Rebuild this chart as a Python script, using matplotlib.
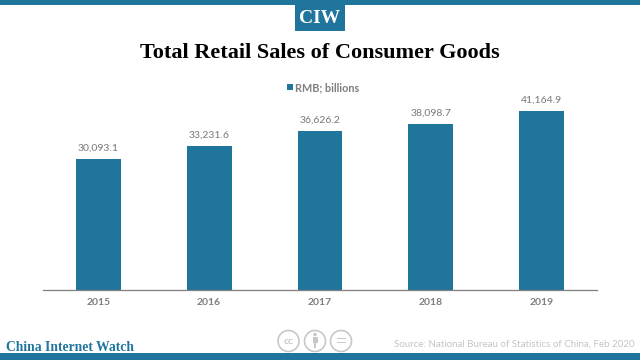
import matplotlib
matplotlib.use('Agg')
import matplotlib.pyplot as plt
from matplotlib.patches import Rectangle, Circle

years = ['2015', '2016', '2017', '2018', '2019']
sales = [30093.1, 33231.6, 36626.2, 38098.7, 41164.9]

blue = '#20759C'
grey = '#7F7F7F'
light = '#C8C8C8'

plt.rcParams['font.family'] = 'Lato'

fig = plt.figure(figsize=(6.4, 3.6), dpi=100)
W, H = 640, 360

# the chart itself, placed in pixels from the top left
ax = fig.add_axes([43 / W, 1 - 290 / H, 554 / W, 200 / H])
ax.patch.set_visible(False)
ax.bar(range(5), sales, width=0.405, color=blue)
ax.set_xlim(-0.5, 4.5)
ax.set_ylim(0, 46000)
ax.set_xticks(range(5))
ax.set_xticklabels(years, fontsize=7.5, fontweight='bold', color=grey)
ax.tick_params(axis='x', length=0, pad=6)
ax.set_yticks([])
for s in ['top', 'left', 'right']:
    ax.spines[s].set_visible(False)
ax.spines['bottom'].set_color(grey)
ax.spines['bottom'].set_linewidth(0.9)
for i, v in enumerate(sales):
    ax.annotate(f'{v:,.1f}', (i, v), xytext=(0, 4.5), textcoords='offset points',
                ha='center', va='bottom', fontsize=7.5, fontweight=500, color=grey)

# page furniture in pixel coordinates
page = fig.add_axes([0, 0, 1, 1], zorder=-1)
page.set_xlim(0, W)
page.set_ylim(H, 0)
page.axis('off')
page.add_patch(Rectangle((0, 0), W, 5, color=blue, lw=0))
page.add_patch(Rectangle((0, 353), W, 7, color=blue, lw=0))
page.add_patch(Rectangle((295, 5), 50, 26, color=blue, lw=0))
page.text(320, 18.5, 'CIW', color='white', fontsize=14, fontweight='bold',
          family='Liberation Serif', ha='center', va='center')
page.text(320, 53, 'Total Retail Sales of Consumer Goods', color='black', fontsize=16,
          fontweight='bold', family='Liberation Serif', ha='center', va='center')

# legend
page.add_patch(Rectangle((287, 84), 6, 6, color=blue, lw=0))
page.text(295, 87.5, 'RMB; billions', color=grey, fontsize=7.8, fontweight='bold', va='center')

# footer
page.text(6, 347.5, 'China Internet Watch', color=blue, fontsize=9.8, fontweight='bold',
          family='Liberation Serif', va='center')
page.text(634, 344.5, 'Source: National Bureau of Statistics of China, Feb 2020', color='#C4C4C4',
          fontsize=7, ha='right', va='center')

# cc icons
for cx in [288.5, 315, 341]:
    page.add_patch(Circle((cx, 341), 10.5, fill=False, ec=light, lw=1.2))
page.text(288.5, 341, 'cc', color=light, fontsize=7.5, fontweight='bold', ha='center', va='center')
page.add_patch(Circle((315, 334.5), 1.8, color=light, lw=0))
page.add_patch(Rectangle((312.5, 337), 5, 6, color=light, lw=0))
page.add_patch(Rectangle((313.7, 343), 2.6, 5, color=light, lw=0))
page.add_patch(Rectangle((336.5, 338), 9, 1.4, color=light, lw=0))
page.add_patch(Rectangle((336.5, 342), 9, 1.4, color=light, lw=0))

fig.savefig('out.png', dpi=100)
